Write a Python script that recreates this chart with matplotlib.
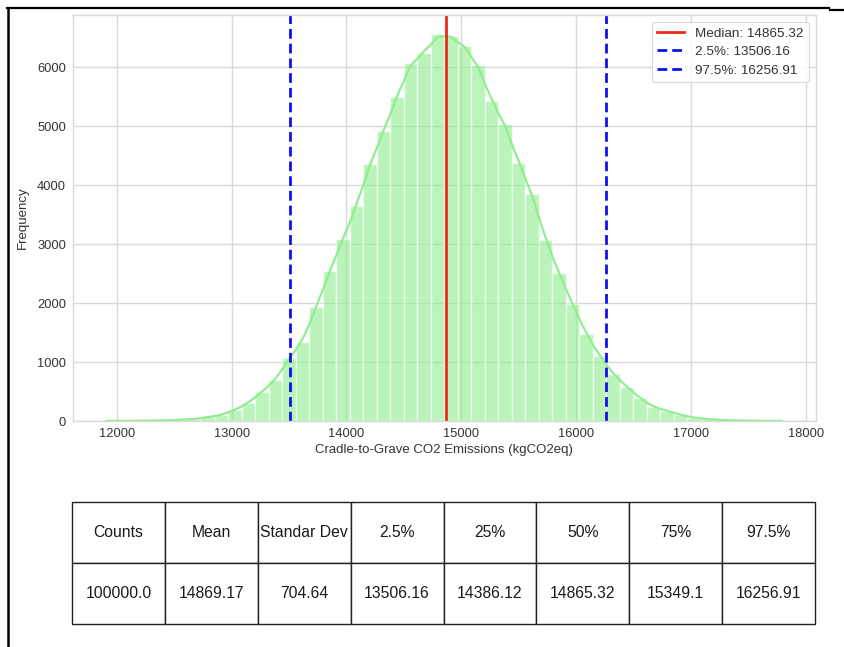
import numpy as np
import matplotlib
matplotlib.use("Agg")
import matplotlib.pyplot as plt
from matplotlib.lines import Line2D

plt.rcParams['font.family'] = ['Liberation Sans', 'DejaVu Sans']

# Monte Carlo results: histogram of cradle-to-grave emissions (50 bins)
data_min = 11913.0
data_max = 17791.0
counts = [1, 2, 4, 8, 12, 20, 35, 63, 102, 186,
          310, 497, 695, 1063, 1344, 1927, 2542, 3096, 3650, 4368,
          4921, 5503, 6080, 6243, 6560, 6530, 6361, 6034, 5424, 5034,
          4384, 3859, 3068, 2503, 1983, 1475, 1107, 797, 582, 384,
          232, 175, 102, 56, 30, 18, 10, 5, 3, 1]

median_val = 14865.32
p025_val = 13506.16
p975_val = 16256.91

stat_names = ["Counts", "Mean", "Standar Dev", "2.5%", "25%", "50%", "75%", "97.5%"]
stat_values = ["100000.0", "14869.17", "704.64", "13506.16", "14386.12",
               "14865.32", "15349.1", "16256.91"]

xticks = [12000, 13000, 14000, 15000, 16000, 17000, 18000]
yticks = [0, 1000, 2000, 3000, 4000, 5000, 6000]

counts = np.asarray(counts, dtype=float)
edges = np.linspace(data_min, data_max, len(counts) + 1)
width = edges[1] - edges[0]
centers = 0.5 * (edges[:-1] + edges[1:])

fig = plt.figure(figsize=(8.44, 6.47), dpi=100)
ax = fig.add_axes([0.0865, 0.3493, 0.88, 0.6275])

grid_c = "#d9d9d9"
ax.set_axisbelow(True)
ax.grid(True, color=grid_c, linewidth=1.0)
for s in ax.spines.values():
    s.set_color(grid_c)
    s.set_linewidth(1.0)

green = "#90ee90"
ax.bar(edges[:-1], counts, width=width, align="edge", color=green, alpha=0.62,
       edgecolor="white", linewidth=1.0)

# smooth density curve estimated from the binned counts
n = counts.sum()
mu = np.sum(centers * counts) / n
sd = np.sqrt(np.sum(counts * (centers - mu) ** 2) / n)
bw = sd * n ** (-1 / 5)
grid = np.linspace(data_min, data_max, 400)
dens = np.zeros_like(grid)
for c, w in zip(centers, counts):
    dens += w * np.exp(-0.5 * ((grid - c) / bw) ** 2)
dens /= (n * bw * np.sqrt(2 * np.pi))
ax.plot(grid, dens * n * width, color=green, linewidth=1.6)

ax.axvline(median_val, color="#ee2a1a", linewidth=2.0)
ax.axvline(p025_val, color="#1010f0", linewidth=2.0, linestyle=(0, (3.5, 1.8)))
ax.axvline(p975_val, color="#1010f0", linewidth=2.0, linestyle=(0, (3.5, 1.8)))

handles = [
    Line2D([], [], color="#ee2a1a", linewidth=2.0),
    Line2D([], [], color="#1010f0", linewidth=2.0, linestyle=(0, (3.5, 1.8))),
    Line2D([], [], color="#1010f0", linewidth=2.0, linestyle=(0, (3.5, 1.8))),
]
labels = [f"Median: {median_val:.2f}", f"2.5%: {p025_val:.2f}", f"97.5%: {p975_val:.2f}"]
leg = ax.legend(handles, labels, loc="upper right", fontsize=9.7, frameon=True,
                borderaxespad=0.5, handlelength=2.0, labelspacing=0.45)
leg.get_frame().set_edgecolor("#d0d0d0")
leg.get_frame().set_linewidth(0.8)
for t in leg.get_texts():
    t.set_color("#333333")

xpad = 0.05 * (data_max - data_min)
ax.set_xlim(data_min - xpad, data_max + xpad)
ax.set_ylim(0, counts.max() * 1.05)
ax.set_xticks(xticks)
ax.set_yticks(yticks)
ax.tick_params(axis="both", length=0, labelsize=9.3, colors="#333333", pad=5)
ax.set_xlabel("Cradle-to-Grave CO2 Emissions (kgCO2eq)", fontsize=9.5, color="#333333", labelpad=3)
ax.set_ylabel("Frequency", fontsize=9.5, color="#333333", labelpad=6)

# summary statistics table
tax = fig.add_axes([72 / 844, 1 - 624 / 647, (815 - 72) / 844, (624 - 502) / 647])
tax.axis("off")
tbl = tax.table(cellText=[stat_names, stat_values], cellLoc="center",
                bbox=[0, 0, 1, 1])
tbl.auto_set_font_size(False)
tbl.set_fontsize(11.3)
for cell in tbl.get_celld().values():
    cell.set_linewidth(1.0)
    cell.set_edgecolor("#222222")
    cell.get_text().set_color("#1a1a1a")

# surrounding frame
fig.add_artist(Line2D([7 / 844, 829 / 844], [1 - 8 / 647, 1 - 8 / 647],
                      transform=fig.transFigure, color="black", linewidth=1.6))
fig.add_artist(Line2D([7.8 / 844, 7.8 / 844], [1 - 8 / 647, 0],
                      transform=fig.transFigure, color="black", linewidth=1.8))
fig.add_artist(Line2D([830 / 844, 1.0], [1 - 10 / 647, 1 - 10 / 647],
                      transform=fig.transFigure, color="black", linewidth=1.6))

fig.savefig("out.png", dpi=100)
